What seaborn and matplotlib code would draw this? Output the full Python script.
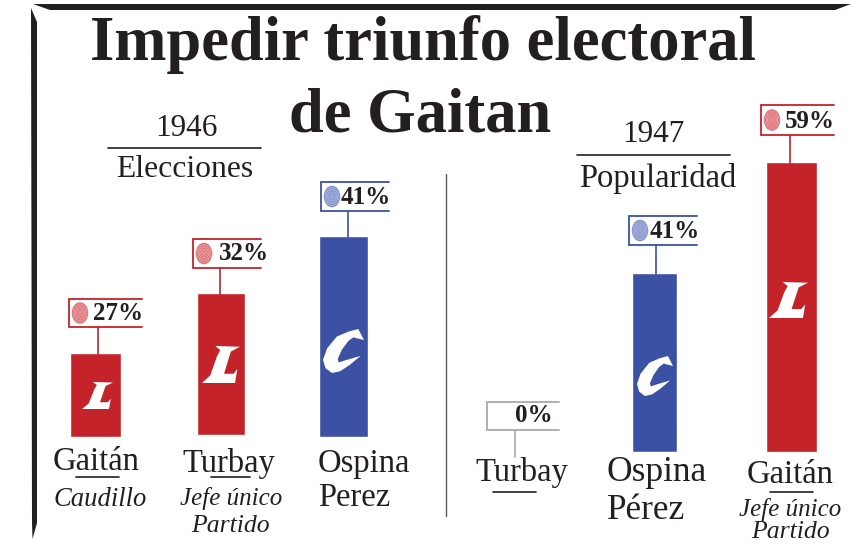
import matplotlib
matplotlib.use("Agg")
import matplotlib.pyplot as plt
from matplotlib.patches import Ellipse, Polygon
import pandas as pd
import seaborn as sns

# candidates, labels and bar heights as they appear in the picture
names_46 = ["Gaitán", "Turbay", "Ospina"]
labels_46 = ["27%", "32%", "41%"]
heights_46 = [84, 142, 201]
colors_46 = ["red", "red", "blue"]

names_47 = ["Turbay", "Ospina", "Gaitán"]
labels_47 = ["0%", "41%", "59%"]
heights_47 = [0, 179, 290]
colors_47 = ["grey", "blue", "red"]

RED = "#c4232a"
BLUE = "#3c51a3"
GREY = "#a7a9ac"
INK = "#231f20"
PALE = {"red": "#de6f75", "blue": "#7f8fcb"}
PAL = {"red": RED, "blue": BLUE, "grey": GREY}

# party marks, outlines in a 0-1 box
L_SHAPE = [(0.35, 0), (1, 0.02), (0.76, 0.15), (0.58, 0.75), (0.83, 0.75), (0.93, 0.62),
           (0.87, 1), (0, 1), (0.22, 0.79), (0.39, 0.29), (0.48, 0.11)]
C_SHAPE = [(0.86, 0), (1, 0.25), (0.74, 0.19), (0.62, 0.27), (0.46, 0.47), (0.36, 0.68),
           (0.38, 0.76), (0.55, 0.71), (0.92, 0.61), (0.66, 0.81), (0.42, 0.96), (0.22, 1),
           (0.06, 0.89), (0, 0.70), (0.10, 0.44), (0.34, 0.17), (0.62, 0.06)]

W, H = 851, 544
sns.set_theme(style="white")
plt.rcParams["font.family"] = ["Liberation Serif", "DejaVu Serif"]

fig = plt.figure(figsize=(W / 100, H / 100), dpi=100)


def bars_axes(names, heights, colors, first, step, base, widths, nudges):
    # full figure axes, one y unit is one pixel, bars sit on base
    ax = fig.add_axes([0, 0, 1, 1])
    df = pd.DataFrame({"name": names, "h": heights, "c": colors})
    sns.barplot(data=df, x="name", y="h", hue="c", palette=PAL, dodge=False,
                legend=False, saturation=1, ax=ax)
    ax.set_xlim(-first / step, (W - first) / step)
    ax.set_ylim(base - H, base)
    ax.axis("off")
    ax.patch.set_alpha(0)
    for i, h in enumerate(heights):
        for p in ax.patches:
            if abs(p.get_x() + p.get_width() / 2 - i) < 0.3 and abs(p.get_height() - h) < 0.01 and h > 0:
                p.set_width(widths[i] / step)
                p.set_x(i - widths[i] / step / 2 + nudges[i][0] / step)
                p.set_y(nudges[i][1])
    return ax


bars_axes(names_46, heights_46, colors_46, 96, 124, 437, [51, 48, 49], [(0, 0), (1, 2), (0, 0)])
bars_axes(names_47, heights_47, colors_47, 515, 138, 452, [48, 45, 51], [(0, 0), (1.5, 0), (0, 0)])

# overlay in pixel coordinates for frame, callouts and text
ov = fig.add_axes([0, 0, 1, 1])
ov.set_xlim(0, W)
ov.set_ylim(H, 0)
ov.axis("off")
ov.patch.set_alpha(0)

ov.add_patch(Polygon([(33, 4), (851, 4), (835, 10), (50, 10)], color=INK, lw=0))
ov.add_patch(Polygon([(31, 8), (37, 22), (37, 523), (32.5, 539), (32, 523)], color=INK, lw=0))
ov.plot([445.7, 445.7], [174, 516], color="#58595b", lw=1)


def callout(left, right, top, bottom, stem_x, stem_end, label, text_x, kind):
    col = PAL[kind]
    ov.plot([right, left, left, right], [top, top, bottom, bottom], color=col, lw=1.3,
            solid_joinstyle="miter")
    ov.plot([stem_x, stem_x], [bottom, stem_end], color=col, lw=1.2)
    if kind in PALE:
        cx, cy = left + 11, (top + bottom) / 2
        ov.add_patch(Ellipse((cx, cy), 16.5, 21.5, color=PALE[kind], lw=0))
        for s in (0.85, 0.7, 0.55, 0.4, 0.25, 0.1):
            ov.add_patch(Ellipse((cx, cy), 16.5 * s, 21.5 * s, fc="none", ec="white", lw=0.25, alpha=0.7))
    ov.text(text_x, bottom - 7.5, label, color=INK, fontsize=18, fontweight="bold",
            ha="center", va="baseline")


callout(69, 142, 299, 327, 97.5, 354, labels_46[0], 118, "red")
callout(193, 261, 239, 268, 220, 294, labels_46[1], 244, "red")
callout(321, 389, 182, 211, 347.5, 237, labels_46[2], 366, "blue")
callout(487, 559, 402, 430, 515, 457, labels_47[0], 534, "grey")
callout(629, 697, 216, 245, 656, 274, labels_47[1], 675, "blue")
callout(761, 834, 105, 135, 790, 163, labels_47[2], 810, "red")


def mark(shape, left, right, top, bottom):
    pts = [(left + x * (right - left), top + y * (bottom - top)) for x, y in shape]
    ov.add_patch(Polygon(pts, color="white", lw=0))


mark(L_SHAPE, 82, 113, 382, 409)
mark(L_SHAPE, 202, 240, 346, 383)
mark(C_SHAPE, 323, 364, 329, 373)
mark(C_SHAPE, 637, 673, 356, 396)
mark(L_SHAPE, 769, 808, 282, 318)


def put(x, y, s, size=23.5, **kw):
    ov.text(x, y, s, color=INK, fontsize=size, ha=kw.pop("ha", "center"), va="baseline", **kw)


put(423, 60, "Impedir triunfo electoral", 45, fontweight="bold")
put(420, 132, "de Gaitan", 45, fontweight="bold")

put(186, 136, "1946", 22.5)
put(185, 177, "Elecciones", 22.8)
ov.plot([108, 261], [147.5, 147.5], color=INK, lw=1.2)
put(653, 142, "1947", 22.5)
put(658, 187, "Popularidad", 23.5)
ov.plot([577, 730], [155, 155], color=INK, lw=1.2)

# candidate names under the bars
put(96, 470, names_46[0])
ov.plot([76, 119], [477, 477], color=INK, lw=1.2)
put(100, 506, "Caudillo", 19.2, fontstyle="italic")
put(229, 472, names_46[1])
ov.plot([211, 250], [477, 477], color=INK, lw=1.2)
put(231, 505, "Jefe único", 18, fontstyle="italic")
put(230, 532, "Partido", 18.5, fontstyle="italic")
put(318, 472, names_46[2], ha="left")
put(318, 506, "Perez", ha="left")

put(522, 481, names_47[0])
ov.plot([493, 536], [492, 492], color=INK, lw=1.2)
put(607, 481, names_47[1], 25.5, ha="left")
put(607, 519, "Pérez", 25.4, ha="left")
put(790, 483, names_47[2])
ov.plot([770, 813], [492, 492], color=INK, lw=1.2)
put(790, 516, "Jefe único", 18, fontstyle="italic")
put(790, 538, "Partido", 18.5, fontstyle="italic")

fig.savefig("out.png", dpi=100, facecolor="white")
